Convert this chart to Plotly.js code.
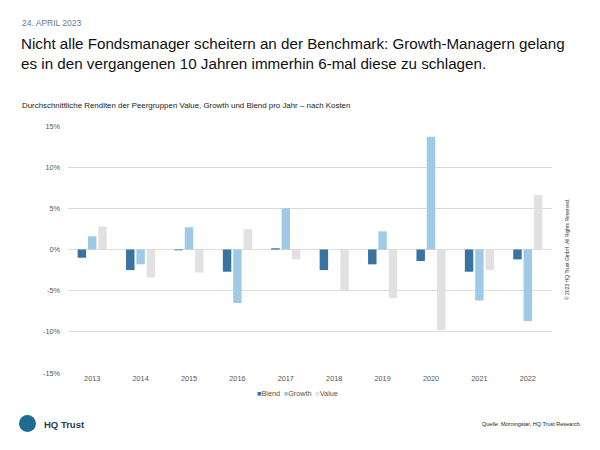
<!DOCTYPE html>
<html>
<head>
<meta charset="utf-8">
<script src="https://cdn.plot.ly/plotly-3.0.1.min.js"></script>
<style>
  html, body { margin: 0; padding: 0; background: #fff; }
  #chart { width: 600px; height: 450px; }
</style>
</head>
<body>
<div id="chart"></div>
<script>
const years = ["2013", "2014", "2015", "2016", "2017", "2018", "2019", "2020", "2021", "2022"];
const blend  = [-1.0, -2.5, -0.1, -2.7, 0.15, -2.5, -1.8, -1.4, -2.7, -1.2];
const growth = [1.6, -1.8, 2.7, -6.5, 5.0, 0.0, 2.2, 13.7, -6.2, -8.7];
const value  = [2.8, -3.4, -2.8, 2.5, -1.2, -5.0, -5.9, -9.8, -2.5, 6.6];
const seriesNames = ["Blend", "Growth", "Value"];
const seriesColors = ["#3a72a0", "#9fcae6", "#e1e1e1"];
const yTickVals = [-15, -10, -5, 0, 5, 10, 15];
const yTickText = ["-15%", "-10%", "-5%", "0%", "5%", "10%", "15%"];

const FONT = "Liberation Sans, Arial, Helvetica, sans-serif";
const L = 68, R = 48, T = 126, B = 77, W = 600, H = 450;
const plotW = W - L - R, plotH = H - T - B;
const px = x => (x - L) / plotW;
const py = y => (H - B - y) / plotH;

const data = [blend, growth, value];
const traces = data.map((vals, i) => ({
  type: "bar", name: seriesNames[i], x: years, y: vals,
  marker: { color: seriesColors[i] }
}));

const legendText = seriesNames.map((n, i) =>
  `<span style="color:${seriesColors[i]}">■</span>${n}`).join("\u2002");

const layout = {
  width: W, height: H,
  margin: { l: L, r: R, t: T, b: B, pad: 0 },
  paper_bgcolor: "#fff", plot_bgcolor: "#fff",
  font: { family: FONT, size: 7, color: "#555" },
  barmode: "group",
  bargap: 0.36,
  bargroupgap: 0.18,
  showlegend: false,
  xaxis: {
    type: "category", showgrid: false, zeroline: false, showline: false,
    ticks: "", tickfont: { family: FONT, size: 7.3, color: "#555" },
    automargin: false
  },
  yaxis: {
    range: [-15, 15], tickvals: yTickVals, ticktext: yTickText,
    showgrid: true, gridcolor: "#dcdcdc", gridwidth: 1,
    zeroline: true, zerolinecolor: "#dcdcdc", zerolinewidth: 1,
    showline: false, ticks: "", ticklabelstandoff: 7,
    tickfont: { family: FONT, size: 7.3, color: "#555" },
    automargin: false
  },
  shapes: [
    { type: "circle", xref: "paper", yref: "paper",
      x0: px(19), x1: px(36), y0: py(432), y1: py(415),
      fillcolor: "#1f6a93", line: { width: 0 } }
  ],
  annotations: [
    { text: "24. APRIL 2023", xref: "paper", yref: "paper", x: px(20), y: py(23),
      xanchor: "left", yanchor: "middle", showarrow: false,
      font: { family: FONT, size: 8.5, color: "#5b7d9c" } },
    { text: "Nicht alle Fondsmanager scheitern an der Benchmark: Growth-Managern gelang<br>es in den vergangenen 10 Jahren immerhin 6-mal diese zu schlagen.",
      xref: "paper", yref: "paper", x: px(19), y: py(53),
      xanchor: "left", yanchor: "middle", align: "left", showarrow: false,
      font: { family: FONT, size: 15.2, color: "#111" } },
    { text: "Durchschnittliche Renditen der Peergruppen Value, Growth und Blend pro Jahr – nach Kosten",
      xref: "paper", yref: "paper", x: px(20), y: py(105),
      xanchor: "left", yanchor: "middle", showarrow: false,
      font: { family: FONT, size: 7.9, color: "#222" } },
    { text: legendText, xref: "paper", yref: "paper", x: px(297), y: py(393),
      xanchor: "center", yanchor: "middle", showarrow: false,
      font: { family: FONT, size: 7.3, color: "#555" } },
    { text: "<b>HQ Trust</b>", xref: "paper", yref: "paper", x: px(42), y: py(424),
      xanchor: "left", yanchor: "middle", showarrow: false,
      font: { family: FONT, size: 9.5, color: "#1d3c5a" } },
    { text: "Quelle: Morningstar, HQ Trust Research.", xref: "paper", yref: "paper",
      x: px(584), y: py(424), xanchor: "right", yanchor: "middle", showarrow: false,
      font: { family: FONT, size: 5.5, color: "#222" } },
    { text: "© 2023 HQ Trust GmbH. All Rights Reserved.", xref: "paper", yref: "paper",
      x: px(567), y: py(250), xanchor: "center", yanchor: "middle", showarrow: false,
      textangle: -90, font: { family: FONT, size: 5, color: "#333" } }
  ]
};

Plotly.newPlot("chart", traces, layout, { displayModeBar: false, staticPlot: true });
</script>
</body>
</html>
